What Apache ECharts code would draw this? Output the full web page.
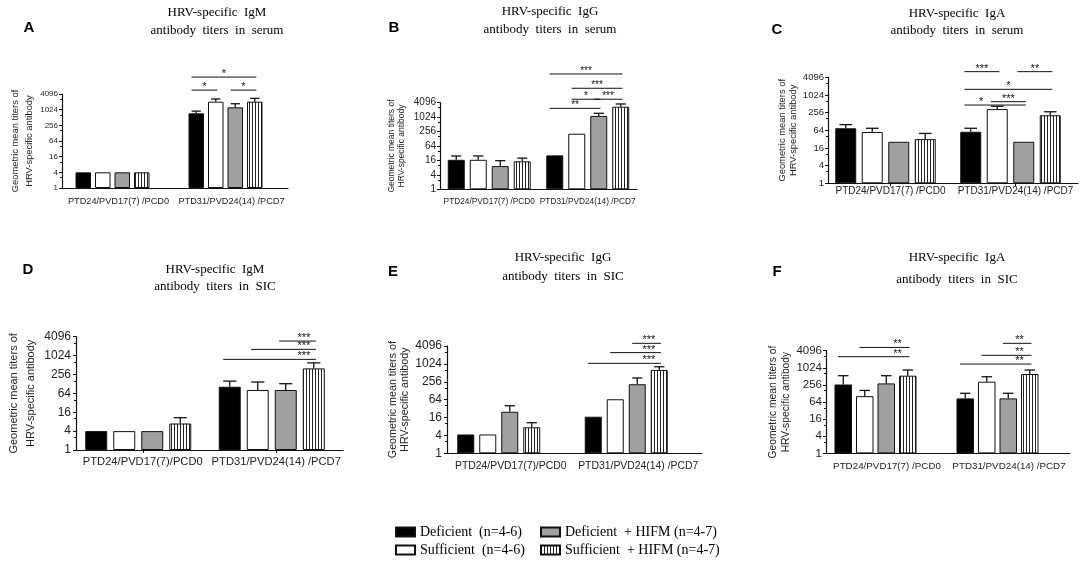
<!DOCTYPE html>
<html><head><meta charset="utf-8">
<script src="https://cdn.jsdelivr.net/npm/echarts@6/dist/echarts.min.js"></script>
<style>html,body{margin:0;padding:0;background:#fff}#c{width:1084px;height:565px}</style>
</head><body><div id="c"></div>
<script>
// ---------------- data ----------------
const groupNames = ['Deficient  (n=4-6)', 'Sufficient  (n=4-6)', 'Deficient  + HIFM (n=4-7)', 'Sufficient  + HIFM (n=4-7)'];
const timepointsSerum = ['PTD24/PVD17(7) /PCD0', 'PTD31/PVD24(14) /PCD7'];
const timepointsSIC = ['PTD24/PVD17(7)/PCD0', 'PTD31/PVD24(14) /PCD7'];
const timepointsSICF = ['PTD24/PVD17(7) /PCD0', 'PTD31/PVD24(14) /PCD7'];
const panelLetters = ['A', 'B', 'C', 'D', 'E', 'F'];
const panelTitles = [
  ['HRV-specific  IgM', 'antibody  titers  in  serum'],
  ['HRV-specific  IgG', 'antibody  titers  in  serum'],
  ['HRV-specific  IgA', 'antibody  titers  in  serum'],
  ['HRV-specific  IgM', 'antibody  titers  in  SIC'],
  ['HRV-specific  IgG', 'antibody  titers  in  SIC'],
  ['HRV-specific  IgA', 'antibody  titers  in  SIC']
];
const yAxisTitle = 'Geometric mean titers of\nHRV-specific antibody';
const yTickRange = [1, 4096];

// geometric mean titers, [group][timepoint]
const meanA = [[4, 740], [4, 2080], [4, 1260], [4, 2080]];
const errA  = [[null, 900], [null, 2630], [null, 1730], [null, 2780]];
const meanB = [[17, 26], [17, 208], [9.3, 1150], [14.7, 2780]];
const errB  = [[24.6, null], [24.6, null], [15.6, 1480], [20, 3620]];
const meanC = [[75, 57], [56, 338], [26, 26], [32, 208]];
const errC  = [[100, 75], [75, 422], [null, null], [50, 274]];
const meanD = [[4, 104], [4, 82], [4, 82], [7, 400]];
const errD  = [[null, 157], [null, 147], [null, 130], [10.7, 600]];
const meanE = [[4.3, 17], [4.3, 66], [25, 211], [7.5, 640]];
const errE  = [[null, null], [null, null], [40, 343], [10.7, 820]];
const meanF = [[265, 86], [103, 333], [290, 86], [541, 622]];
const errF  = [[541, 130], [164, 497], [541, 130], [855, 855]];

// significance: [timepoint, fromGroup, toGroup, label]
const sigA = [[1, 0, 3, '*'], [1, 0, 1, '*'], [1, 2, 3, '*']];
const sigB = [[1, 0, 3, '***'], [1, 1, 3, '***'], [1, 1, 2, '*'], [1, 2, 3, '***'], [1, 0, 2, '**']];
const sigC = [[1, 0, 1, '***'], [1, 2, 3, '**'], [1, 0, 3, '*'], [1, 0, 2, '*'], [1, 1, 2, '***']];
const sigD = [[1, 2, 3, '***'], [1, 1, 3, '***'], [1, 0, 3, '***']];
const sigE = [[1, 2, 3, '***'], [1, 1, 3, '***'], [1, 0, 3, '***']];
const sigF = [[0, 1, 3, '**'], [0, 0, 3, '**'], [1, 2, 3, '**'], [1, 1, 3, '**'], [1, 0, 3, '**']];

const panels = [
  {cats: timepointsSerum, mean: meanA, err: errA, sig: sigA},
  {cats: timepointsSerum, mean: meanB, err: errB, sig: sigB},
  {cats: timepointsSerum, mean: meanC, err: errC, sig: sigC},
  {cats: timepointsSIC,   mean: meanD, err: errD, sig: sigD},
  {cats: timepointsSIC,   mean: meanE, err: errE, sig: sigE},
  {cats: timepointsSICF,  mean: meanF, err: errF, sig: sigF}
];

// ---------------- layout (positions / sizes / styles) ----------------
const layout = [
  {grid:{left:62,top:94,width:226,height:94}, barW:15.5, gap:4, spacer:8, letter:[29,28], title:[217,13,31],
   yFS:8, xFS:9.2, xMargin:9, yMargin:4, nameFS:9.4, nameLH:14, nameGap:18, xTick:false, star:'mid', starFS:11,
   sigLevels:[7.08,6.25,6.25], starShift:[0,0,0]},
  {grid:{left:440,top:102.7,width:197,height:86.6}, barW:17, gap:5, spacer:0, letter:[394,28], title:[550,12,30],
   yFS:10, xFS:8.3, xMargin:8, yMargin:4, nameFS:8.5, nameLH:10, nameGap:33, xTick:false, star:'mid', starFS:10,
   sigLevels:[7.99,7.0,6.24,6.24,5.61], starShift:[0,0,0,0,0]},
  {grid:{left:828,top:77.3,width:250,height:106}, barW:21, gap:5.5, spacer:4.5, letter:[777,30], title:[957,14,31],
   yFS:9.5, xFS:10, xMargin:3, yMargin:4, nameFS:9.4, nameLH:11, nameGap:25, xTick:true, star:'mid', starFS:11,
   sigLevels:[6.32,6.32,5.32,4.43,4.62], starShift:[0,0,0,-14,0]},
  {grid:{left:76,top:336.7,width:267,height:113.3}, barW:22, gap:6, spacer:3, letter:[28,270], title:[215,270,287],
   yFS:12, xFS:11.2, xMargin:6, yMargin:5, nameFS:11, nameLH:17, nameGap:37, xTick:true, star:'end', starFS:11,
   sigLevels:[5.77,5.33,4.8], starShift:[0,0,0]},
  {grid:{left:447,top:346,width:255,height:107.3}, barW:17, gap:5, spacer:19, letter:[393,272], title:[563,258,277],
   yFS:12, xFS:10.4, xMargin:8, yMargin:5, nameFS:10.7, nameLH:12, nameGap:36, xTick:false, star:'end', starFS:11,
   sigLevels:[6.15,5.63,5.03], starShift:[0,0,0]},
  {grid:{left:826,top:350.7,width:244,height:102.7}, barW:17.5, gap:4, spacer:19, letter:[777,272], title:[957,258,280],
   yFS:11.5, xFS:9.8, xMargin:8, yMargin:4, nameFS:10.3, nameLH:13, nameGap:32, xTick:false, star:'end', starFS:11,
   sigLevels:[6.19,5.65,6.43,5.73,5.22], starShift:[0,0,0,0,0]}
];

const SANS = '"Liberation Sans", Arial, sans-serif';
const SERIF = '"Liberation Serif", "Times New Roman", serif';
const INK = '#111';

// vertical stripe pattern
const pc = document.createElement('canvas');
pc.width = 3; pc.height = 4;
const pctx = pc.getContext('2d');
pctx.fillStyle = '#fff'; pctx.fillRect(0, 0, 3, 4);
pctx.fillStyle = '#222'; pctx.fillRect(0, 0, 1, 4);

const fills = ['#000000', '#ffffff', '#a0a0a0', {image: pc, repeat: 'repeat'}];

function offsetFn(Lp) {
  const gp = Lp.gap / Lp.barW;
  const step = Lp.barW * (1 + gp);
  const total = Lp.spacer ? 4 * step + Lp.spacer : 4 * step - Lp.barW * gp;
  return g => -total / 2 + g * step + Lp.barW / 2;
}

const grids = [], xAxes = [], yAxes = [], series = [], graphics = [];

panels.forEach((P, p) => {
  const Lp = layout[p];
  const off = offsetFn(Lp);
  const gp = (Lp.gap / Lp.barW * 100).toFixed(1) + '%';
  grids.push(Object.assign({containLabel: false}, Lp.grid));
  xAxes.push({
    type: 'category', gridIndex: p, data: P.cats,
    axisLine: {show: true, lineStyle: {color: INK, width: 1.2}},
    axisTick: {show: Lp.xTick, alignWithLabel: true, length: 3, lineStyle: {color: INK}},
    axisLabel: {fontSize: Lp.xFS, fontFamily: SANS, color: '#222', margin: Lp.xMargin, interval: 0},
    splitLine: {show: false}
  });
  yAxes.push({
    type: 'log', logBase: 4, gridIndex: p, min: yTickRange[0], max: yTickRange[1], splitNumber: 6,
    name: yAxisTitle, nameLocation: 'middle', nameGap: Lp.nameGap, nameRotate: 90,
    nameTextStyle: {fontSize: Lp.nameFS, lineHeight: Lp.nameLH, fontFamily: SANS, color: '#222'},
    axisLine: {show: true, lineStyle: {color: INK, width: 1.2}},
    axisTick: {show: true, length: 3, lineStyle: {color: INK}},
    minorTick: {show: true, splitNumber: 2, length: 2, lineStyle: {color: INK}},
    axisLabel: {fontSize: Lp.yFS, fontFamily: SANS, color: '#222', margin: Lp.yMargin,
      formatter: v => String(Math.round(v))},
    splitLine: {show: false}, minorSplitLine: {show: false}
  });
  P.mean.forEach((vals, g) => {
    series.push({
      type: 'bar', name: groupNames[g], xAxisIndex: p, yAxisIndex: p, data: vals,
      barWidth: Lp.barW, barGap: gp,
      itemStyle: {color: fills[g], borderColor: INK, borderWidth: 1}
    });
  });
  if (Lp.spacer) {
    series.push({type: 'bar', name: '_spacer' + p, xAxisIndex: p, yAxisIndex: p, data: ['-', '-'],
      barWidth: Lp.spacer, barGap: gp, silent: true, itemStyle: {color: 'rgba(0,0,0,0)'}});
  }
  // error bars
  const errData = [];
  P.err.forEach((vals, g) => vals.forEach((e, t) => {
    if (e != null) errData.push([t, g, P.mean[g][t], e]);
  }));
  series.push({
    type: 'custom', xAxisIndex: p, yAxisIndex: p, data: errData, clip: false, silent: true,
    encode: {x: 0, y: 3},
    renderItem: (params, api) => {
      const t = api.value(0), g = api.value(1);
      const b = api.coord([t, api.value(2)]);
      const e = api.coord([t, api.value(3)]);
      const x = b[0] + off(g);
      const cw = Lp.barW * 0.6;
      const st = {stroke: INK, lineWidth: 1.3};
      return {type: 'group', children: [
        {type: 'line', shape: {x1: x, y1: b[1], x2: x, y2: e[1]}, style: st},
        {type: 'line', shape: {x1: x - cw / 2, y1: e[1], x2: x + cw / 2, y2: e[1]}, style: st}
      ]};
    }
  });
  // significance brackets
  const sigData = P.sig.map((s, k) => [s[0], Math.pow(4, Lp.sigLevels[k])]);
  series.push({
    type: 'custom', xAxisIndex: p, yAxisIndex: p, data: sigData, clip: false, silent: true,
    encode: {x: 0, y: 1},
    renderItem: (params, api) => {
      const k = params.dataIndex;
      const s = P.sig[k];
      const c = api.coord([api.value(0), api.value(1)]);
      const x1 = c[0] + off(s[1]) - Lp.barW * 0.3;
      const x2 = c[0] + off(s[2]) + Lp.barW * 0.1;
      const y = c[1];
      const lx = (Lp.star === 'end' ? x2 - 12 : (x1 + x2) / 2) + Lp.starShift[k];
      return {type: 'group', children: [
        {type: 'line', shape: {x1: x1, y1: y, x2: x2, y2: y}, style: {stroke: INK, lineWidth: 1}},
        {type: 'text', x: lx, y: y - 3, style: {text: s[3], fill: INK, font: Lp.starFS + 'px ' + SANS,
          align: 'center', verticalAlign: 'middle'}}
      ]};
    }
  });
  // panel letter & title
  graphics.push({type: 'text', x: Lp.letter[0], y: Lp.letter[1],
    style: {text: panelLetters[p], fill: '#000', font: 'bold 15px ' + SANS, align: 'center', verticalAlign: 'middle'}});
  graphics.push({type: 'text', x: Lp.title[0], y: Lp.title[1],
    style: {text: panelTitles[p][0], fill: '#000', font: '13px ' + SERIF, align: 'center', verticalAlign: 'middle'}});
  graphics.push({type: 'text', x: Lp.title[0], y: Lp.title[2],
    style: {text: panelTitles[p][1], fill: '#000', font: '13px ' + SERIF, align: 'center', verticalAlign: 'middle'}});
});

const legendCommon = {orient: 'vertical', itemWidth: 19, itemHeight: 9, itemGap: 4, selectedMode: false,
  icon: 'rect', textStyle: {fontFamily: SERIF, fontSize: 14, color: '#000'}};

const chart = echarts.init(document.getElementById('c'));
chart.setOption({
  animation: false,
  backgroundColor: '#fff',
  textStyle: {fontFamily: SANS},
  grid: grids, xAxis: xAxes, yAxis: yAxes, series: series,
  legend: [
    Object.assign({data: [groupNames[0], groupNames[1]], left: 390, top: 520}, legendCommon),
    Object.assign({data: [groupNames[2], groupNames[3]], left: 535, top: 520}, legendCommon)
  ],
  graphic: graphics
});
</script></body></html>
